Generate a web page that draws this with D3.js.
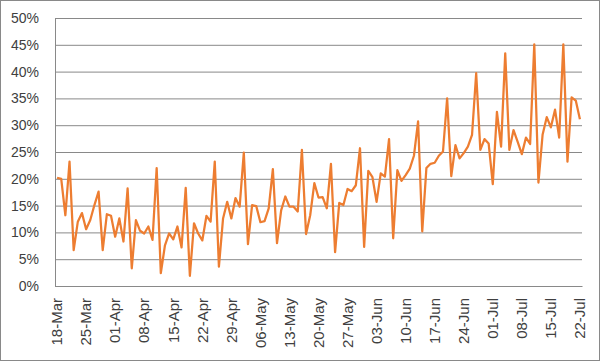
<!DOCTYPE html>
<html>
<head>
<meta charset="utf-8">
<script src="https://cdn.jsdelivr.net/npm/d3@7"></script>
<style>
  html, body { margin: 0; padding: 0; background: #fff; }
  svg { display: block; }
  text { font-family: "Liberation Sans", Arial, sans-serif; fill: #404040; }
</style>
</head>
<body>
<svg id="chart" width="600" height="361"></svg>
<script>
// ---- data ----
const startDate = new Date(2020, 2, 18);
const endDate = new Date(2020, 6, 23);
const categories = d3.timeDays(startDate, endDate).map(d3.timeFormat("%d-%b"));

const values = [
  20.2, 20.0, 13.2, 23.2, 6.7, 12.0, 13.6, 10.6, 12.3, 15.1,
  17.6, 6.7, 13.4, 13.1, 9.2, 12.6, 8.3, 18.2, 3.3, 12.3,
  10.3, 9.8, 11.1, 8.6, 22.0, 2.4, 7.6, 9.8, 8.7, 11.1,
  7.2, 18.3, 1.9, 11.7, 9.8, 8.5, 13.1, 12.0, 23.2, 3.6,
  12.6, 15.7, 12.6, 16.4, 14.8, 24.9, 7.8, 15.1, 14.9, 11.9,
  12.1, 14.5, 21.8, 8.0, 14.1, 16.7, 14.8, 14.8, 13.9, 25.4,
  9.7, 13.2, 19.2, 16.5, 16.6, 14.5, 22.8, 6.3, 15.5, 15.1,
  18.1, 17.7, 18.8, 25.7, 7.3, 21.5, 20.3, 15.7, 21.0, 20.4,
  27.4, 8.9, 21.6, 19.6, 20.7, 21.9, 24.3, 30.7, 10.2, 22.0,
  22.8, 23.0, 24.3, 25.1, 35.0, 20.5, 26.3, 23.8, 24.8, 26.0,
  28.2, 39.7, 25.4, 27.4, 26.6, 19.0, 32.5, 26.0, 43.4, 25.4,
  29.1, 26.9, 24.6, 27.7, 26.5, 45.1, 19.3, 28.2, 31.5, 29.6,
  32.9, 27.7, 45.1, 23.2, 35.2, 34.6, 31.1
];

const tickLabels = [
  "18-Mar", "25-Mar", "01-Apr", "08-Apr", "15-Apr", "22-Apr", "29-Apr",
  "06-May", "13-May", "20-May", "27-May", "03-Jun", "10-Jun", "17-Jun",
  "24-Jun", "01-Jul", "08-Jul", "15-Jul", "22-Jul"
];

const yTicks = [0, 5, 10, 15, 20, 25, 30, 35, 40, 45, 50];

// ---- layout ----
const svg = d3.select("#chart");
const plotL = 55, plotR = 582, plotT = 18, plotB = 286;

const x = d3.scaleBand().domain(categories).range([plotL, plotR]).paddingInner(0).paddingOuter(0);
const xc = c => x(c) + x.bandwidth() / 2;
const y = d3.scaleLinear().domain([0, 50]).range([plotB, plotT]);

// outer border
svg.append("rect")
  .attr("x", 0.5).attr("y", 0.5).attr("width", 599).attr("height", 360)
  .attr("fill", "#fff").attr("stroke", "#898989").attr("stroke-width", 1);

// gridlines + y axis
const yAxis = d3.axisLeft(y).tickValues(yTicks).tickFormat(d => d + "%")
  .tickSize(-(plotR - plotL)).tickPadding(16);
const yg = svg.append("g").attr("transform", `translate(${plotL},0)`).call(yAxis);
yg.select(".domain").remove();
yg.selectAll(".tick line").attr("stroke", "#898989").attr("stroke-width", 1);
yg.selectAll(".tick text").attr("font-size", 14).style("fill", "#404040")
  .attr("font-family", "'Liberation Sans', Arial, sans-serif");

// left axis line
svg.append("line").attr("x1", plotL + 0.5).attr("x2", plotL + 0.5)
  .attr("y1", plotT).attr("y2", plotB).attr("stroke", "#898989").attr("stroke-width", 1);

// x axis
const xAxis = d3.axisBottom(x).tickValues(tickLabels).tickSize(0).tickPadding(0);
const xg = svg.append("g").attr("transform", `translate(0,${plotB})`).call(xAxis);
xg.select(".domain").attr("stroke", "#898989");
xg.selectAll(".tick text")
  .attr("font-size", 15)
  .attr("font-family", "'Liberation Sans', Arial, sans-serif")
  .style("fill", "#404040")
  .attr("text-anchor", "end")
  .attr("transform", "translate(0,12) rotate(-90)")
  .attr("x", 0).attr("y", 0).attr("dy", "0.35em");

// line
const line = d3.line()
  .x((d, i) => xc(categories[i]))
  .y(d => y(d));

svg.append("path")
  .datum(values)
  .attr("fill", "none")
  .attr("stroke", "#ED7D31")
  .attr("stroke-width", 2.25)
  .attr("stroke-linejoin", "round")
  .attr("d", line);
</script>
</body>
</html>
